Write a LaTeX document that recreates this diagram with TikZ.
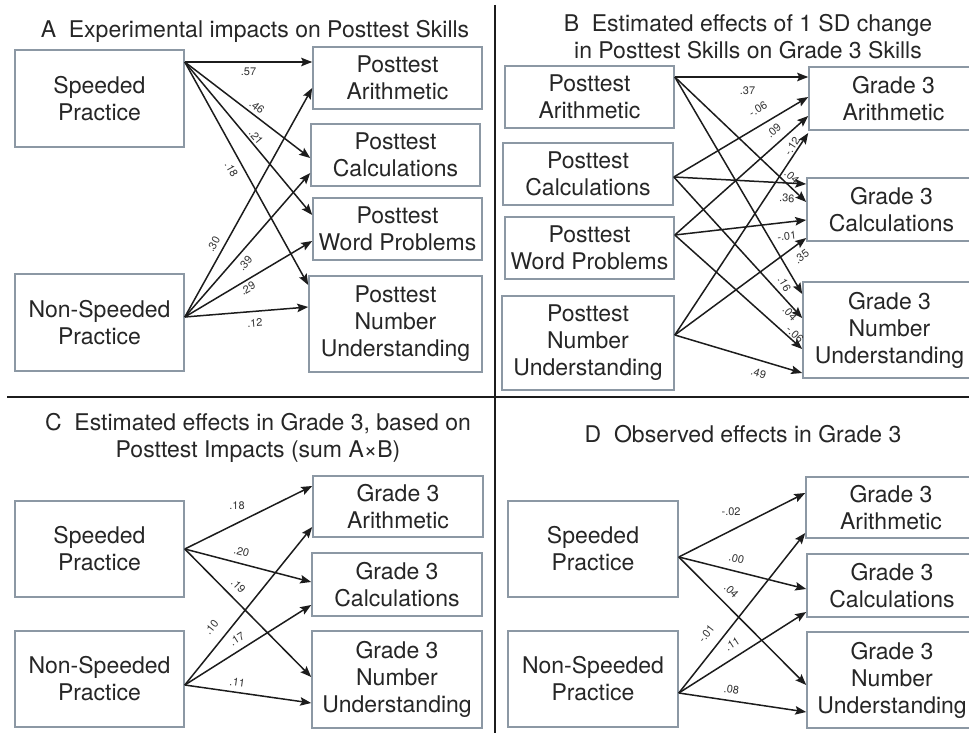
\documentclass[tikz,border=0pt]{standalone}
\usepackage{fontspec}
\setmainfont{TeX Gyre Heros}
\usetikzlibrary{arrows.meta}
\definecolor{boxc}{HTML}{8C98A4}
\definecolor{txt}{HTML}{262626}
\definecolor{ln}{HTML}{1C1C1C}
\definecolor{lblc}{HTML}{333333}
\newcommand\bxfont{\fontsize{23}{27}\selectfont}
\newcommand\lbfont{\fontsize{11}{12}\selectfont}
\begin{document}
\begin{tikzpicture}[x=1pt,y=-1pt,
  box/.style={draw=boxc, line width=1.6pt, align=center, font=\bxfont, text=txt, inner sep=0pt},
  ttl/.style={align=center, font=\bxfont, text=txt, inner sep=0pt},
  arr/.style={draw=ln, line width=1.5pt, -{Stealth[length=11pt,width=8.5pt,inset=2pt]}},
  lbl/.style={font=\lbfont, text=lblc, inner sep=0.5pt},
  rule/.style={draw=ln, line width=2pt}]
\useasboundingbox (0,0) rectangle (969,733);
% dividers
\draw[rule] (495,5) -- (495,733);
\draw[rule] (7,397) -- (969,397);
% titles
\node[ttl, anchor=base] (tA) at (255,37.5) {A\ \ Experimental impacts on Posttest Skills};
\node[ttl, anchor=north] (tB) at (748,14.5) {B\ \ Estimated effects of 1 SD change\\in Posttest Skills on Grade 3 Skills};
\node[ttl, anchor=north] (tC) at (258,413) {C\ \ Estimated effects in Grade 3, based on\\Posttest Impacts (sum A×B)};
\node[ttl, anchor=base] (tD) at (743,442) {D\ \ Observed effects in Grade 3};
% ---------------- Panel A
\node[box, minimum width=169pt, minimum height=97pt] (aS) at (99.5,98.5) {Speeded\\Practice};
\node[box, minimum width=169pt, minimum height=97pt] (aN) at (99.5,322.5) {Non-Speeded\\Practice};
\node[box, minimum width=169pt, minimum height=62pt] (aPA) at (397.5,78) {Posttest\\Arithmetic};
\node[box, minimum width=169pt, minimum height=62pt] (aPC) at (395.5,155) {Posttest\\Calculations};
\node[box, minimum width=169pt, minimum height=62pt] (aPW) at (397.5,229) {Posttest\\Word Problems};
\node[box, minimum width=173pt, minimum height=96pt] (aPN) at (395.5,324) {Posttest\\Number\\Understanding};
\draw[arr] (aS.east |- 0,62) -- (aPA.west |- 0,62) node[lbl,pos=.5,below=5pt]{.57};
\draw[arr] (aS.east |- 0,62) -- (aPC.west |- 0,158) node[lbl,sloped,pos=.535,above=3pt]{.46};
\draw[arr] (aS.east |- 0,62) -- (aPW.west |- 0,215) node[lbl,sloped,pos=.52,above=1.5pt]{.21};
\draw[arr] (aS.east |- 0,62) -- (aPN.west |- 0,285) node[lbl,sloped,pos=.457,below=6pt]{.18};
\draw[arr] (aN.east |- 0,317) -- (aPA.west |- 0,88) node[lbl,sloped,pos=.296,above=5pt]{.30};
\draw[arr] (aN.east |- 0,317) -- (aPC.west |- 0,173) node[lbl,sloped,pos=.42,below=5pt]{.39};
\draw[arr] (aN.east |- 0,317) -- (aPW.west |- 0,241) node[lbl,sloped,pos=.464,below=2.5pt]{.29};
\draw[arr] (aN.east |- 0,317) -- (aPN.west |- 0,307) node[lbl,sloped,pos=.56,below=6.5pt]{.12};
% ---------------- Panel B
\node[box, minimum width=169pt, minimum height=62pt] (bPA) at (589.5,97) {Posttest\\Arithmetic};
\node[box, minimum width=170pt, minimum height=62pt] (bPC) at (588,174) {Posttest\\Calculations};
\node[box, minimum width=169pt, minimum height=62pt] (bPW) at (589.5,248) {Posttest\\Word Problems};
\node[box, minimum width=172pt, minimum height=94pt] (bPN) at (588,343) {Posttest\\Number\\Understanding};
\node[box, minimum width=169pt, minimum height=63pt] (bGA) at (893.5,98.5) {Grade 3\\Arithmetic};
\node[box, minimum width=169pt, minimum height=63pt] (bGC) at (891.5,209.5) {Grade 3\\Calculations};
\node[box, minimum width=173pt, minimum height=96pt] (bGN) at (889.5,330) {Grade 3\\Number\\Understanding};
\draw[arr] (bPA.east |- 0,77) -- (bGA.west |- 0,77) node[lbl,pos=.545,below=8pt]{.37};
\draw[arr] (bPC.east |- 0,177) -- (bGA.west |- 0,97) node[lbl,sloped,pos=.685,above=10pt]{-.06};
\draw[arr] (bPW.east |- 0,235) -- (bGA.west |- 0,116) node[lbl,sloped,pos=.80,above=6.5pt]{.09};
\draw[arr] (bPN.east |- 0,335) -- (bGA.west |- 0,133) node[lbl,sloped,pos=.917,above=1pt]{-.12};
\draw[arr] (bPA.east |- 0,77) -- (bGC.west |- 0,202) node[lbl,sloped,pos=.848,above=3pt]{.04};
\draw[arr] (bPC.east |- 0,177) -- (bGC.west |- 0,184) node[lbl,sloped,pos=.86,below=10pt]{.36};
\draw[arr] (bPW.east |- 0,235) -- (bGC.west |- 0,220) node[lbl,sloped,pos=.84,below=9pt]{-.01};
\draw[arr] (bPN.east |- 0,335) -- (bGC.west |- 0,238) node[lbl,sloped,pos=.91,below=7pt]{.35};
\draw[arr] (bPA.east |- 0,77) -- (bGN.west |- 0,294) node[lbl,sloped,pos=.93,below=5pt]{.16};
\draw[arr] (bPC.east |- 0,177) -- (bGN.west |- 0,318) node[lbl,sloped,pos=.94,below=1pt]{.04};
\draw[arr] (bPW.east |- 0,235) -- (bGN.west |- 0,349) node[lbl,sloped,pos=.91,above=1pt]{-.06};
\draw[arr] (bPN.east |- 0,335) -- (bGN.west |- 0,373) node[lbl,sloped,pos=.685,below=7.5pt]{.49};
% ---------------- Panel C
\node[box, minimum width=169pt, minimum height=96pt] (cS) at (99.5,549) {Speeded\\Practice};
\node[box, minimum width=169pt, minimum height=96pt] (cN) at (99.5,679) {Non-Speeded\\Practice};
\node[box, minimum width=170pt, minimum height=61pt] (cGA) at (398,506.5) {Grade 3\\Arithmetic};
\node[box, minimum width=170pt, minimum height=63pt] (cGC) at (397,584.5) {Grade 3\\Calculations};
\node[box, minimum width=170pt, minimum height=97pt] (cGN) at (397,679.5) {Grade 3\\Number\\Understanding};
\draw[arr] (cS.east |- 0,549) -- (cGA.west |- 0,486) node[lbl,pos=.41,above=12pt]{.18};
\draw[arr] (cS.east |- 0,549) -- (cGC.west |- 0,582) node[lbl,sloped,pos=.425,above=6.5pt]{.20};
\draw[arr] (cS.east |- 0,549) -- (cGN.west |- 0,677) node[lbl,sloped,pos=.355,above=7pt]{.19};
\draw[arr] (cN.east |- 0,685) -- (cGA.west |- 0,527) node[lbl,sloped,pos=.303,above=10pt]{.10};
\draw[arr] (cN.east |- 0,685) -- (cGC.west |- 0,605) node[lbl,sloped,pos=.46,above=6pt]{.17};
\draw[arr] (cN.east |- 0,685) -- (cGN.west |- 0,703) node[lbl,sloped,pos=.405,above=4.5pt]{.11};
% ---------------- Panel D
\node[box, minimum width=170pt, minimum height=96pt] (dS) at (593,549) {Speeded\\Practice};
\node[box, minimum width=170pt, minimum height=96pt] (dN) at (593,679) {Non-Speeded\\Practice};
\node[box, minimum width=170pt, minimum height=61pt] (dGA) at (891,507.5) {Grade 3\\Arithmetic};
\node[box, minimum width=170pt, minimum height=63pt] (dGC) at (892,585.5) {Grade 3\\Calculations};
\node[box, minimum width=170pt, minimum height=96pt] (dGN) at (892,680) {Grade 3\\Number\\Understanding};
\draw[arr] (dS.east |- 0,557) -- (dGA.west |- 0,493) node[lbl,pos=.414,above=13.5pt]{-.02};
\draw[arr] (dS.east |- 0,557) -- (dGC.west |- 0,589) node[lbl,sloped,pos=.43,above=7pt]{.00};
\draw[arr] (dS.east |- 0,557) -- (dGN.west |- 0,685) node[lbl,sloped,pos=.339,above=8pt]{.04};
\draw[arr] (dN.east |- 0,693) -- (dGA.west |- 0,533) node[lbl,sloped,pos=.313,above=10pt]{-.01};
\draw[arr] (dN.east |- 0,693) -- (dGC.west |- 0,612) node[lbl,sloped,pos=.473,above=7.5pt]{.11};
\draw[arr] (dN.east |- 0,693) -- (dGN.west |- 0,712) node[lbl,sloped,pos=.40,above=6pt]{.08};
\end{tikzpicture}
\end{document}
